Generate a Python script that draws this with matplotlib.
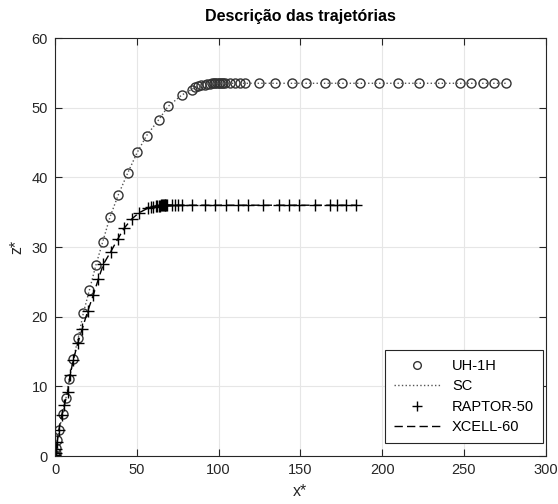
import matplotlib.pyplot as plt

# UH-1H / SC trajectory
uh_x = [0, 0.1, 0.3, 0.8, 1.4, 2.6, 4.7, 6.7, 8.7, 11.2, 14.2, 17.3, 21, 25,
        29.1, 33.6, 38.7, 44.4, 50.3, 56, 63.5, 69.2, 77.4, 83.5, 85.5, 87.5,
        89.5, 91.5, 93, 94.5, 96, 97, 98, 99, 100, 101, 102, 103, 104, 107,
        110, 113, 116, 124.5, 134.5, 144.6, 153.7, 165, 175.5, 186.3, 198,
        209.7, 222.5, 235.6, 247.8, 254.5, 261.6, 268.3, 275.5]
uh_z = [0, 0.2, 0.5, 1.2, 2.3, 3.8, 6.0, 8.3, 11.0, 13.9, 17.0, 20.5, 23.8,
        27.4, 30.7, 34.3, 37.5, 40.6, 43.6, 46.0, 48.3, 50.2, 51.8, 52.6,
        52.9, 53.1, 53.2, 53.3, 53.4, 53.4, 53.5, 53.5, 53.5, 53.5, 53.5,
        53.5, 53.5, 53.5, 53.5, 53.5, 53.5, 53.5, 53.5, 53.5, 53.5, 53.5,
        53.5, 53.5, 53.5, 53.5, 53.5, 53.5, 53.5, 53.5, 53.5, 53.5, 53.5,
        53.5, 53.5]

# RAPTOR-50 / XCELL-60 trajectory
rp_x = [0, 0.1, 0.3, 0.7, 1.3, 2.4, 4.1, 5.7, 7.7, 9.2, 11.2, 13.9, 16.7, 20,
        23.4, 26.5, 29.5, 34, 38.5, 42.3, 46.8, 51.3, 57, 58.5, 60, 61.5,
        62.5, 63.5, 64.3, 65, 65.5, 66, 66.5, 67, 67.5, 68, 68.5, 71.3, 73.3,
        75.3, 77.4, 84, 91.6, 97.7, 104.5, 111.6, 118, 127, 137, 143, 149,
        159, 168, 172.5, 178, 184]
rp_z = [0, 0.2, 0.5, 1.0, 2.0, 3.8, 5.9, 7.3, 9.2, 11.6, 13.8, 16.2, 18.3,
        20.8, 23.1, 25.4, 27.5, 29.3, 31.2, 32.7, 34.0, 34.9, 35.6, 35.7,
        35.8, 35.85, 35.9, 35.9, 35.95, 36, 36, 36, 36, 36, 36, 36, 36, 36,
        36, 36, 36, 36, 36, 36, 36, 36, 36, 36, 36, 36, 36, 36, 36, 36, 36,
        36]

plt.rcParams['font.family'] = ['Liberation Sans', 'DejaVu Sans']

fig = plt.figure(figsize=(5.58, 5.04), dpi=100)
ax = fig.add_axes([0.0986, 0.0952, 0.8794, 0.8294])

ax.plot(uh_x, uh_z, 'o', mfc='none', mec='#333333', ms=6.5, mew=1.0, label='UH-1H')
ax.plot(uh_x, uh_z, ':', color='#555555', lw=1.0, label='SC')
ax.plot(rp_x, rp_z, '+', color='black', ms=8, mew=1.0, label='RAPTOR-50')
ax.plot(rp_x, rp_z, '--', color='black', lw=1.0, dashes=(6, 3), label='XCELL-60')

ax.set_xlim(0, 300)
ax.set_ylim(0, 60)
ax.set_xticks(range(0, 301, 50))
ax.set_yticks(range(0, 61, 10))
ax.grid(True, color='#e6e6e6', lw=0.8)
ax.set_axisbelow(True)
ax.tick_params(direction='in', top=True, right=True, length=5, pad=5,
               labelsize=10.5, colors='#262626')
for s in ax.spines.values():
    s.set_color('#262626')

ax.set_title('Descrição das trajetórias', fontsize=11.5, fontweight='bold', pad=12)
ax.set_xlabel('x*', fontsize=11.5, color='#262626', labelpad=5)
ax.set_ylabel('z*', fontsize=11.5, color='#262626', labelpad=5)

leg = ax.legend(loc='lower right', bbox_to_anchor=(0.994, 0.031),
                borderaxespad=0, fontsize=10.5, fancybox=False,
                edgecolor='#262626', framealpha=1, markerscale=0.85,
                handlelength=3.2, labelspacing=0.45, borderpad=0.6)
leg.get_frame().set_linewidth(0.8)

fig.savefig('out.png', dpi=100)
